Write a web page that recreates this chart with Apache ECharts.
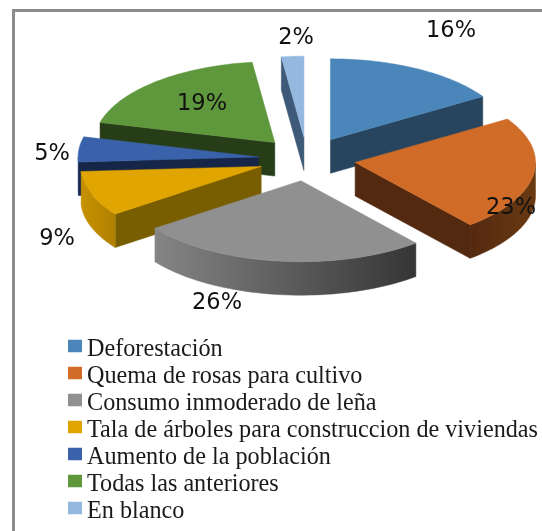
<!DOCTYPE html>
<html>
<head>
<meta charset="utf-8">
<style>html,body{margin:0;padding:0;background:#fff}#c{width:542px;height:531px}</style>
<script src="https://cdn.jsdelivr.net/npm/echarts@6/dist/echarts.min.js"></script>
</head>
<body>
<div id="c"></div>
<script>
const categories = ['Deforestación','Quema de rosas para cultivo','Consumo inmoderado de leña','Tala de árboles para construccion de viviendas','Aumento de la población','Todas las anteriores','En blanco'];
const shares = [16,23,26,9,5,19,2];
const topColors = ['#4A86BA','#D06C28','#909090','#E0A500','#3A62AB','#5F973C','#95B8E0'];
const wallColors = ['#28455F','#53290F','#555555','#785E00','#162648','#273D17','#3F5A78'];
const rimLeft = ['#28455F','#53290F','#858585','#C79100','#2C4A82','#3F6428','#5F7CA0'];
const rimRight = ['#28455F','#6A3A12','#353535','#B08000','#1D3560','#2C451A','#5F7CA0'];
const labelAt = [[451,31],[511,208],[217,303],[57,239],[52,154],[202,104],[296,38]];
const cx = 307, cy = 159, rx = 180.4, ry = 81, depth = 33.5, explode = 48.7;
const total = shares.reduce((a,b)=>a+b,0);
const starts = shares.map((_,i)=>shares.slice(0,i).reduce((a,b)=>a+b,0)/total*Math.PI*2);
const pt = (ox,oy,a,dy)=>[ox+rx*Math.sin(a), oy-ry*Math.cos(a)+(dy||0)];
function renderSlice(params, api){
  const i = params.seriesIndex, v = api.value(0);
  const a = starts[i], b = a + v/total*Math.PI*2, m = (a+b)/2;
  const ox = cx+explode*Math.sin(m), oy = cy-explode*Math.cos(m)*ry/rx;
  const children = [];
  const poly = (points, fill)=>children.push({type:'polygon',shape:{points},style:{fill,stroke:fill,lineWidth:0.5}});
  const wall = t=>{const p=pt(ox,oy,t);poly([[ox,oy],p,[p[0],p[1]+depth],[ox,oy+depth]],wallColors[i]);};
  if(Math.sin(a)<0) wall(a);
  if(Math.sin(b)>0) wall(b);
  const ra = Math.max(a,Math.PI/2), rb = Math.min(b,Math.PI*1.5);
  if(rb>ra){
    const pts=[], n=48;
    for(let k=0;k<=n;k++) pts.push(pt(ox,oy,ra+(rb-ra)*k/n));
    for(let k=n;k>=0;k--) pts.push(pt(ox,oy,ra+(rb-ra)*k/n,depth));
    poly(pts,{type:'linear',x:0,y:0,x2:1,y2:0,colorStops:[{offset:0,color:rimLeft[i]},{offset:1,color:rimRight[i]}]});
  }
  const top=[[ox,oy]], n=64;
  for(let k=0;k<=n;k++) top.push(pt(ox,oy,a+(b-a)*k/n));
  poly(top,topColors[i]);
  children.push({type:'text',z2:50,style:{text:v+'%',x:labelAt[i][0],y:labelAt[i][1],font:'22.5px "DejaVu Sans"',fill:'#111',textAlign:'center',textVerticalAlign:'middle'}});
  return {type:'group',children};
}
const order = shares.map((_,i)=>{const m=starts[i]+shares[i]/total*Math.PI;return {i,d:-Math.cos(m)};}).sort((p,q)=>p.d-q.d).map(o=>o.i);
const chart = echarts.init(document.getElementById('c'),null,{renderer:'canvas'});
chart.setOption({
  animation:false,
  backgroundColor:'#fff',
  legend:{
    orient:'vertical',left:68,top:330,itemWidth:14,itemHeight:12.5,itemGap:-5,padding:0,
    icon:'rect',selectedMode:false,
    formatter:name=>'{t|'+name+'}',
    textStyle:{fontFamily:'"Liberation Serif"',fontSize:24.2,color:'#1a1a1a',
      rich:{t:{fontFamily:'"Liberation Serif"',fontSize:24.2,lineHeight:24,color:'#1a1a1a',padding:[8,0,0,0]}}},
    data:categories
  },
  graphic:[
    {type:'line',shape:{x1:13.5,y1:10.5,x2:542,y2:10.5},style:{stroke:'#8c8c8c',lineWidth:3}},
    {type:'line',shape:{x1:13.5,y1:9,x2:13.5,y2:531},style:{stroke:'#8c8c8c',lineWidth:3}}
  ],
  series:categories.map((name,i)=>({
    type:'custom',name,coordinateSystem:'none',renderItem:renderSlice,
    z:2+order.indexOf(i),itemStyle:{color:topColors[i]},
    data:[[shares[i]]],silent:true
  }))
});
</script>
</body>
</html>
